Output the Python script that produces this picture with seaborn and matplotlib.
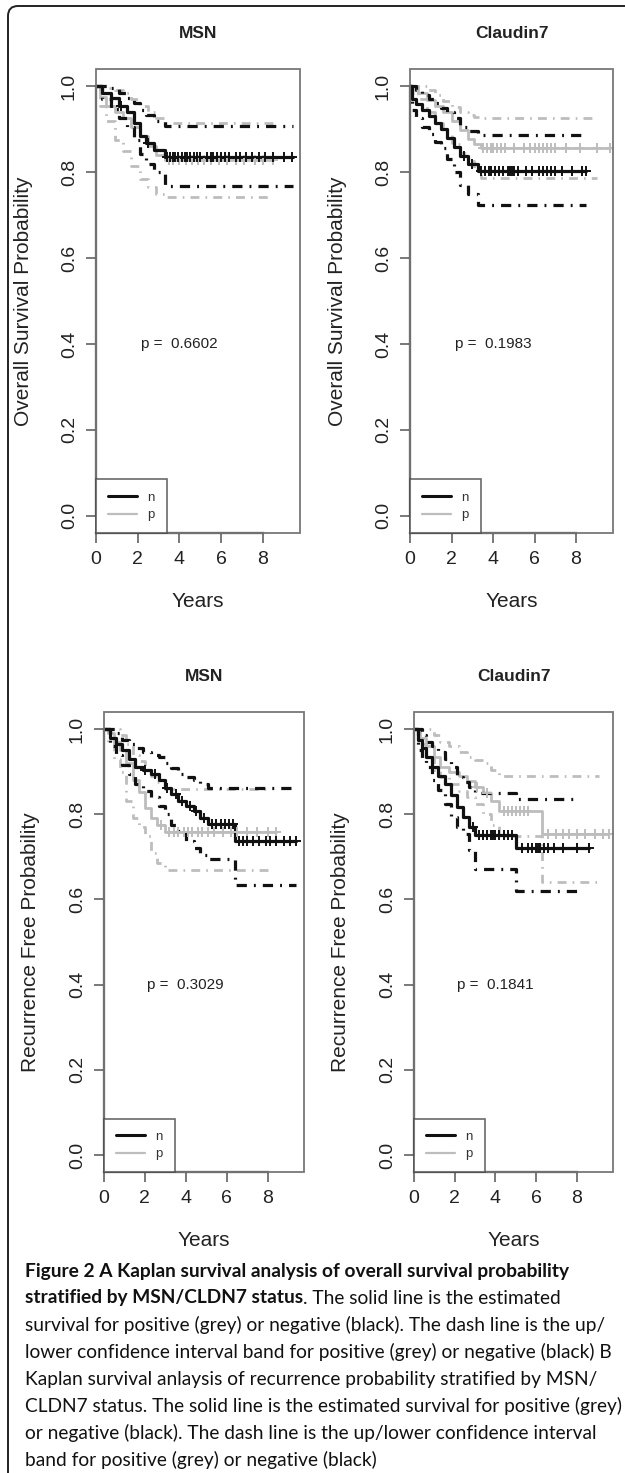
import numpy as np
import pandas as pd
import matplotlib
matplotlib.use("Agg")
import matplotlib.pyplot as plt
import seaborn as sns
from matplotlib.lines import Line2D
from matplotlib.patches import Rectangle, FancyBboxPatch
from matplotlib.transforms import IdentityTransform

sns.set_theme(style="white")
plt.rcParams["font.family"] = ["Liberation Sans", "DejaVu Sans"]

# ---------------- data ----------------
# A: overall survival, MSN
os_msn_n_time  = [0, 0.3, 0.7, 1.1, 1.5, 1.8, 2.1, 2.4, 2.8, 3.3, 9.43]
os_msn_n_surv  = [1.0, 0.985, 0.972, 0.955, 0.94, 0.915, 0.885, 0.868, 0.852, 0.835, 0.835]
os_msn_n_upper = [1.0, 1.0, 0.995, 0.985, 0.972, 0.962, 0.945, 0.932, 0.92, 0.908, 0.908]
os_msn_n_lower = [1.0, 0.97, 0.948, 0.925, 0.905, 0.875, 0.842, 0.82, 0.80, 0.768, 0.768]
os_msn_n_cens  = [1.2, 2.5, 3.4, 3.55, 3.7, 3.8, 3.95, 4.1, 4.25, 4.35, 4.5, 4.7, 4.85, 5.0,
                  5.3, 5.5, 5.6, 5.8, 6.0, 6.2, 6.4, 6.7, 6.9, 7.2, 7.5, 7.8, 8.1, 8.5, 9.0, 9.4]

os_msn_p_time  = [0, 0.2, 0.5, 0.9, 1.3, 1.7, 2.1, 2.5, 2.9, 3.3, 8.5]
os_msn_p_surv  = [1.0, 0.975, 0.955, 0.94, 0.925, 0.905, 0.885, 0.86, 0.84, 0.828, 0.828]
os_msn_p_upper = [1.0, 1.0, 0.995, 0.99, 0.985, 0.97, 0.955, 0.94, 0.925, 0.915, 0.915]
os_msn_p_lower = [1.0, 0.955, 0.92, 0.875, 0.85, 0.815, 0.785, 0.765, 0.75, 0.742, 0.742]
os_msn_p_cens  = [3.5, 3.7, 4.0, 4.3, 4.6, 4.9, 5.2, 5.5, 5.9, 6.3, 6.7, 7.1, 7.6, 8.0, 8.5]

# A: overall survival, Claudin7
os_cld_n_time  = [0, 0.1, 0.3, 0.6, 0.9, 1.2, 1.5, 1.8, 2.1, 2.4, 2.8, 3.3, 8.5]
os_cld_n_surv  = [1.0, 0.97, 0.958, 0.945, 0.93, 0.915, 0.9, 0.88, 0.858, 0.838, 0.818, 0.802, 0.802]
os_cld_n_upper = [1.0, 1.0, 0.99, 0.98, 0.97, 0.96, 0.95, 0.94, 0.925, 0.905, 0.895, 0.886, 0.886]
os_cld_n_lower = [1.0, 0.944, 0.925, 0.905, 0.888, 0.87, 0.855, 0.83, 0.8, 0.77, 0.75, 0.723, 0.723]
os_cld_n_cens  = [2.6, 3.0, 3.4, 3.6, 3.8, 3.9, 4.1, 4.3, 4.5, 4.7, 4.8, 4.9, 5.0, 5.2, 5.6,
                  5.9, 6.2, 6.4, 6.6, 6.8, 7.0, 7.3, 7.8, 8.3, 8.5]

os_cld_p_time  = [0, 0.4, 0.8, 1.2, 1.6, 2.0, 2.4, 2.8, 3.1, 3.4, 9.0]
os_cld_p_surv  = [1.0, 0.985, 0.968, 0.955, 0.94, 0.92, 0.898, 0.878, 0.865, 0.856, 0.856]
os_cld_p_upper = [1.0, 1.0, 0.99, 0.98, 0.965, 0.952, 0.94, 0.932, 0.928, 0.927, 0.927]
os_cld_p_lower = [1.0, 0.97, 0.94, 0.915, 0.89, 0.865, 0.845, 0.825, 0.805, 0.786, 0.786]
os_cld_p_cens  = [3.5, 3.7, 3.9, 4.0, 4.2, 4.4, 4.6, 5.0, 5.5, 5.8, 6.0, 6.2, 6.4, 6.6, 6.8,
                  7.0, 7.5, 8.2, 9.0, 9.64]

# B: recurrence free, MSN
rf_msn_n_time  = [0, 0.3, 0.6, 0.9, 1.2, 1.5, 1.9, 2.3, 2.7, 3.0, 3.3, 3.6, 4.0, 4.4, 4.7, 5.1, 6.4, 9.4]
rf_msn_n_surv  = [1.0, 0.98, 0.966, 0.95, 0.93, 0.912, 0.903, 0.895, 0.88, 0.862, 0.848, 0.83,
                  0.82, 0.808, 0.792, 0.777, 0.737, 0.737]
rf_msn_n_upper = [1.0, 1.0, 0.99, 0.975, 0.965, 0.955, 0.945, 0.94, 0.935, 0.92, 0.908, 0.895,
                  0.887, 0.88, 0.872, 0.862, 0.862, 0.862]
rf_msn_n_lower = [1.0, 0.96, 0.94, 0.915, 0.895, 0.872, 0.855, 0.84, 0.82, 0.8, 0.775, 0.755,
                  0.738, 0.72, 0.705, 0.696, 0.635, 0.635]
rf_msn_n_cens  = [2.0, 2.5, 3.1, 3.5, 3.8, 4.2, 4.5, 4.9, 5.3, 5.5, 5.7, 5.9, 6.1, 6.3, 6.6,
                  6.8, 7.0, 7.3, 7.6, 7.9, 8.1, 8.4, 8.8, 9.1, 9.4]

rf_msn_p_time  = [0, 0.2, 0.5, 0.8, 1.1, 1.4, 1.7, 2.0, 2.3, 2.6, 3.0, 8.1]
rf_msn_p_surv  = [1.0, 0.99, 0.97, 0.95, 0.92, 0.88, 0.852, 0.815, 0.79, 0.775, 0.758, 0.758]
rf_msn_p_upper = [1.0, 1.0, 1.0, 0.985, 0.965, 0.94, 0.925, 0.905, 0.89, 0.875, 0.86, 0.86]
rf_msn_p_lower = [1.0, 0.97, 0.93, 0.9, 0.83, 0.79, 0.77, 0.75, 0.71, 0.685, 0.669, 0.669]
rf_msn_p_cens  = [2.8, 3.2, 3.4, 3.6, 3.9, 4.1, 4.3, 4.6, 4.8, 5.1, 5.4, 5.8, 6.2, 6.5, 7.0,
                  7.5, 8.0, 8.4]

# B: recurrence free, Claudin7
rf_cld_n_time  = [0, 0.2, 0.4, 0.6, 0.9, 1.2, 1.5, 1.8, 2.1, 2.4, 2.7, 3.0, 5.0, 8.1]
rf_cld_n_surv  = [1.0, 0.975, 0.955, 0.935, 0.91, 0.89, 0.87, 0.845, 0.817, 0.793, 0.77, 0.752, 0.72, 0.72]
rf_cld_n_upper = [1.0, 1.0, 0.985, 0.97, 0.96, 0.945, 0.93, 0.91, 0.888, 0.875, 0.864, 0.849, 0.836, 0.836]
rf_cld_n_lower = [1.0, 0.95, 0.93, 0.91, 0.88, 0.857, 0.825, 0.793, 0.77, 0.754, 0.715, 0.672, 0.62, 0.62]
rf_cld_n_cens  = [2.9, 3.2, 3.4, 3.6, 3.8, 3.9, 4.0, 4.2, 4.4, 4.6, 4.8, 5.3, 5.6, 5.8, 6.0,
                  6.1, 6.2, 6.4, 6.6, 6.9, 7.3, 8.0, 8.6]

rf_cld_p_time  = [0, 0.3, 0.6, 1.0, 1.3, 1.7, 2.2, 2.6, 3.0, 3.4, 3.8, 4.2, 6.3, 9.1]
rf_cld_p_surv  = [1.0, 0.98, 0.96, 0.935, 0.91, 0.9, 0.89, 0.878, 0.865, 0.85, 0.83, 0.807, 0.754, 0.754]
rf_cld_p_upper = [1.0, 1.0, 1.0, 0.985, 0.97, 0.96, 0.945, 0.935, 0.928, 0.92, 0.905, 0.89, 0.89, 0.89]
rf_cld_p_lower = [1.0, 0.965, 0.935, 0.905, 0.887, 0.87, 0.855, 0.84, 0.825, 0.8, 0.775, 0.75, 0.64, 0.64]
rf_cld_p_cens  = [3.1, 3.6, 4.4, 4.6, 4.8, 5.0, 5.2, 5.4, 5.6, 6.6, 7.0, 7.3, 7.6, 8.0, 8.4,
                  8.9, 9.3, 9.56]

titles   = ["MSN", "Claudin7", "MSN", "Claudin7"]
ylabels  = ["Overall Survival Probability", "Overall Survival Probability",
            "Recurrence Free Probability", "Recurrence Free Probability"]
pvalues  = ["0.6602", "0.1983", "0.3029", "0.1841"]
xticks   = [0, 2, 4, 6, 8]
yticks   = [0.0, 0.2, 0.4, 0.6, 0.8, 1.0]
groups   = ["n", "p"]

caption_lines = [
    "survival for positive (grey) or negative (black). The dash line is the up/",
    "lower confidence interval band for positive (grey) or negative (black) B",
    "Kaplan survival anlaysis of recurrence probability stratified by MSN/",
    "CLDN7 status. The solid line is the estimated survival for positive (grey)",
    "or negative (black). The dash line is the up/lower confidence interval",
    "band for positive (grey) or negative (black)",
]
caption_bold_1 = "Figure 2 A Kaplan survival analysis of overall survival probability"
caption_bold_2 = "stratified by MSN/CLDN7 status"
caption_rest_2 = ". The solid line is the estimated"

COLORS = {"n": "#111111", "p": "#bdbdbd"}
DASHDOT = (0, (3.2, 2.2, 0.6, 2.2))


def km_frames(time, surv, upper, lower, cens, group):
    """step table for the curve + ci, and the censor marks"""
    t = list(time)
    s = list(surv)
    if max(cens) > t[-1]:
        t = t + [max(cens)]
        s = s + [s[-1]]
    line = pd.DataFrame({"time": t, "surv": s, "group": group})
    band = pd.DataFrame({"time": time, "upper": upper, "lower": lower, "group": group})
    idx = np.searchsorted(np.array(time), np.array(cens), side="right") - 1
    marks = pd.DataFrame({"time": cens, "surv": np.array(surv)[idx], "group": group})
    return line, band, marks


panels = [
    {"n": (os_msn_n_time, os_msn_n_surv, os_msn_n_upper, os_msn_n_lower, os_msn_n_cens),
     "p": (os_msn_p_time, os_msn_p_surv, os_msn_p_upper, os_msn_p_lower, os_msn_p_cens)},
    {"n": (os_cld_n_time, os_cld_n_surv, os_cld_n_upper, os_cld_n_lower, os_cld_n_cens),
     "p": (os_cld_p_time, os_cld_p_surv, os_cld_p_upper, os_cld_p_lower, os_cld_p_cens)},
    {"n": (rf_msn_n_time, rf_msn_n_surv, rf_msn_n_upper, rf_msn_n_lower, rf_msn_n_cens),
     "p": (rf_msn_p_time, rf_msn_p_surv, rf_msn_p_upper, rf_msn_p_lower, rf_msn_p_cens)},
    {"n": (rf_cld_n_time, rf_cld_n_surv, rf_cld_n_upper, rf_cld_n_lower, rf_cld_n_cens),
     "p": (rf_cld_p_time, rf_cld_p_surv, rf_cld_p_upper, rf_cld_p_lower, rf_cld_p_cens)},
]

W, H = 625, 1473
fig = plt.figure(figsize=(W / 100, H / 100), dpi=100)
fig.patch.set_facecolor("white")

# axes boxes in pixels: left, right, top, bottom
boxes = [(96, 300, 69, 533), (410, 613, 69, 533), (104, 304, 712, 1172), (414, 613, 712, 1172)]
ylabel_x = [-0.309, -0.31, -0.32, -0.32]

for i, (l, r, t, b) in enumerate(boxes):
    ax = fig.add_axes([l / W, 1 - b / H, (r - l) / W, (b - t) / H])
    for g in ["p", "n"]:
        line, band, marks = km_frames(*panels[i][g], g)
        lw = 2.3 if g == "n" else 2.0
        sns.lineplot(data=band, x="time", y="upper", color=COLORS[g], estimator=None,
                     drawstyle="steps-post", linewidth=lw, linestyle=DASHDOT, ax=ax)
        sns.lineplot(data=band, x="time", y="lower", color=COLORS[g], estimator=None,
                     drawstyle="steps-post", linewidth=lw, linestyle=DASHDOT, ax=ax)
        sns.lineplot(data=line, x="time", y="surv", color=COLORS[g], estimator=None,
                     drawstyle="steps-post", linewidth=lw, ax=ax)
        sns.scatterplot(data=marks, x="time", y="surv", color=COLORS[g], marker="+",
                        s=55, linewidth=1.4, ax=ax, zorder=3)

    ax.set_xlim(0, 9.78)
    ax.set_ylim(-0.04, 1.04)
    ax.set_xticks(xticks)
    ax.set_xticklabels([str(x) for x in xticks])
    ax.set_yticks(yticks)
    ax.set_yticklabels([f"{y:.1f}" for y in yticks], rotation=90, va="center")
    ax.tick_params(axis="both", which="both", direction="out", length=7, width=1.1,
                   color="#555555", labelsize=14, labelcolor="#222222", pad=6,
                   bottom=True, left=True)

    # R style: grey box plus darker axis lines over the tick range
    for side in ["top", "right"]:
        ax.spines[side].set_visible(False)
    ax.spines["left"].set_bounds(0, 1)
    ax.spines["bottom"].set_bounds(0, 8)
    for side in ["left", "bottom"]:
        ax.spines[side].set_color("#333333")
        ax.spines[side].set_linewidth(1.6)
    ax.add_patch(Rectangle((0, 0), 1, 1, transform=ax.transAxes, fill=False,
                           edgecolor="#777777", linewidth=1.3, zorder=5, clip_on=False))

    ax.set_xlabel("Years", fontsize=15, color="#222222")
    ax.xaxis.set_label_coords(0.5, -0.128)
    ax.set_ylabel(ylabels[i], fontsize=15, color="#222222")
    ax.yaxis.set_label_coords(ylabel_x[i], 0.5)
    ax.text(0.5, 1.077, titles[i], transform=ax.transAxes, ha="center", va="center",
            fontsize=12.5, fontweight="bold", color="#222222")
    ax.text(4, 0.4, "p =  " + pvalues[i], ha="center", va="center", fontsize=11,
            color="#222222")

    handles = [Line2D([], [], color=COLORS["n"], lw=2.2), Line2D([], [], color=COLORS["p"], lw=1.6)]
    leg = ax.legend(handles, groups, loc="lower left", bbox_to_anchor=(0, 0), borderaxespad=0,
                    frameon=True, fancybox=False, edgecolor="#444444", fontsize=9.5,
                    handlelength=2.2, handletextpad=0.8, borderpad=0.9, labelspacing=0.4)
    leg.get_frame().set_linewidth(1.2)
    for txt in leg.get_texts():
        txt.set_color("#333333")

# ---------------- caption ----------------
cap_font = ["Lato", "DejaVu Sans"]
renderer = fig.canvas.get_renderer()
widths = []
for txt in caption_lines:
    probe = fig.text(0, 0, txt, fontsize=12, family=cap_font)
    widths.append(probe.get_window_extent(renderer=renderer).width)
    probe.remove()
cap_size = 12 * 594 / max(widths)

x0 = 25 / W
line_y = [1271 + 27 * k for k in range(8)]

fig.text(x0, 1 - line_y[0] / H, caption_bold_1, fontsize=cap_size, fontweight="bold",
         family=cap_font, va="center", ha="left", color="#111111")
bold2 = fig.text(x0, 1 - line_y[1] / H, caption_bold_2, fontsize=cap_size, fontweight="bold",
                 family=cap_font, va="center", ha="left", color="#111111")
bw = bold2.get_window_extent(renderer=renderer).width
fig.text(x0 + bw / W, 1 - line_y[1] / H, caption_rest_2, fontsize=cap_size,
         family=cap_font, va="center", ha="left", color="#111111")
for k, txt in enumerate(caption_lines):
    fig.text(x0, 1 - line_y[k + 2] / H, txt, fontsize=cap_size, family=cap_font,
             va="center", ha="left", color="#111111")

# rounded frame, only its top and left edge fall inside the picture
frame = FancyBboxPatch((8, -60), 700, H - 6 + 60, boxstyle="round,pad=0,rounding_size=10",
                       transform=IdentityTransform(), fill=False, edgecolor="#222222",
                       linewidth=1.4)
fig.patches.append(frame)

fig.savefig("out.png", dpi=100)
